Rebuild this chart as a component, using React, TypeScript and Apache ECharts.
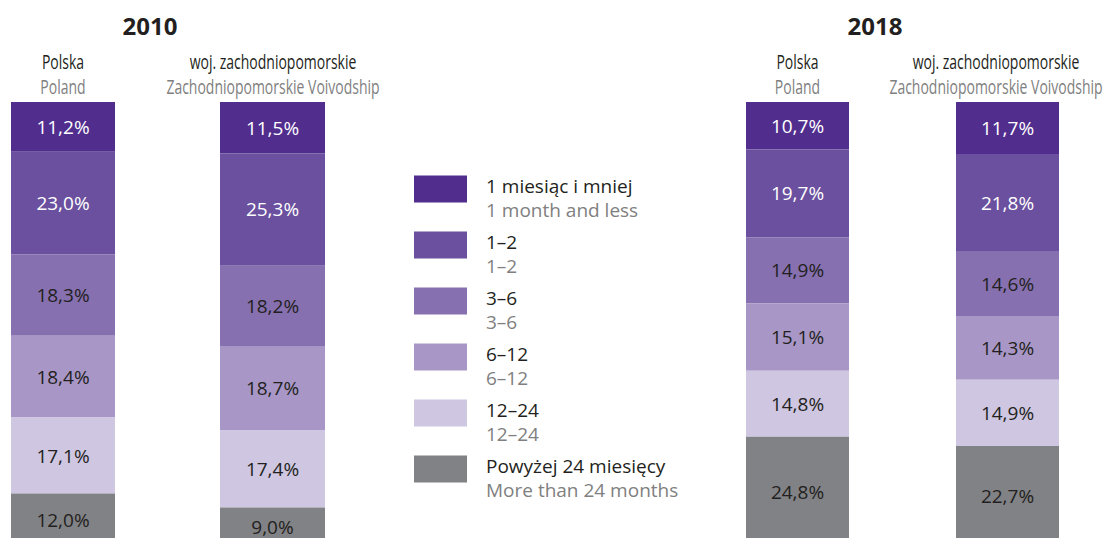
import React, { useEffect, useRef } from 'react';
import * as echarts from 'echarts';

const yearTitles = ['2010', '2018'];
const columnsPl = ['Polska', 'woj. zachodniopomorskie', 'Polska', 'woj. zachodniopomorskie'];
const columnsEn = ['Poland', 'Zachodniopomorskie Voivodship', 'Poland', 'Zachodniopomorskie Voivodship'];
const durationsPl = ['1 miesiąc i mniej', '1–2', '3–6', '6–12', '12–24', 'Powyżej 24 miesięcy'];
const durationsEn = ['1 month and less', '1–2', '3–6', '6–12', '12–24', 'More than 24 months'];
const polska2010 = [11.2, 23.0, 18.3, 18.4, 17.1, 12.0];
const woj2010 = [11.5, 25.3, 18.2, 18.7, 17.4, 9.0];
const polska2018 = [10.7, 19.7, 14.9, 15.1, 14.8, 24.8];
const woj2018 = [11.7, 21.8, 14.6, 14.3, 14.9, 22.7];

const columnValues = [polska2010, woj2010, polska2018, woj2018];
const colors = ['#512d8e', '#6a509e', '#8670b0', '#a897c6', '#cfc6e2', '#818285'];
const gridLayout = [
  { left: 11, width: 104 },
  { left: 220, width: 105 },
  { left: 746, width: 103 },
  { left: 956, width: 103 },
];
const headerX = [63, 273, 797.5, 996];
const titleX = [150, 875];

const SANS = '"Open Sans", "Noto Sans", sans-serif';
const DARK = '#231f20';
const GREY = '#808080';

export default function App() {
  const ref = useRef<HTMLDivElement>(null);
  useEffect(() => {
    if (!ref.current) return;
    const chart = echarts.init(ref.current, null, { renderer: 'svg' });
    const grids = gridLayout.map((g) => ({
      left: g.left,
      width: g.width,
      top: 102,
      height: 445,
      outerBoundsMode: 'none',
      containLabel: false,
    }));
    const xAxes = gridLayout.map((_, i) => ({
      type: 'category',
      gridIndex: i,
      position: 'top',
      data: [columnsPl[i]],
      axisLine: { show: false },
      axisTick: { show: false },
      axisLabel: { show: false },
    }));
    const yAxes = gridLayout.map((_, i) => ({
      type: 'value',
      gridIndex: i,
      min: 0,
      max: 100,
      inverse: true,
      show: false,
    }));
    const series: any[] = [];
    columnValues.forEach((vals, g) => {
      vals.forEach((v, k) => {
        series.push({
          type: 'bar',
          name: durationsPl[k],
          xAxisIndex: g,
          yAxisIndex: g,
          stack: 'col' + g,
          barWidth: '100%',
          data: [v],
          itemStyle: { color: colors[k] },
          emphasis: { disabled: true },
          label: {
            show: true,
            position: 'inside',
            color: k < 2 ? '#ffffff' : DARK,
            fontSize: 19,
            fontFamily: SANS,
            formatter: (p: any) => p.value.toFixed(1).replace('.', ',') + '%',
          },
        });
      });
    });
    const headerTexts: any[] = [];
    headerX.forEach((cx, i) => {
      headerTexts.push({
        type: 'text',
        x: cx,
        y: 61,
        scaleX: 0.7,
        style: {
          text: columnsPl[i],
          align: 'center',
          verticalAlign: 'middle',
          fontSize: 20,
          fontFamily: SANS,
          fill: DARK,
        },
      });
      headerTexts.push({
        type: 'text',
        x: cx,
        y: 86,
        scaleX: 0.7,
        style: {
          text: columnsEn[i],
          align: 'center',
          verticalAlign: 'middle',
          fontSize: 20,
          fontFamily: SANS,
          fill: GREY,
        },
      });
    });
    chart.setOption({
      animation: false,
      grid: grids,
      xAxis: xAxes,
      yAxis: yAxes,
      series,
      legend: {
        data: durationsPl,
        orient: 'vertical',
        left: 414,
        top: 160,
        padding: 0,
        itemWidth: 53,
        itemHeight: 27,
        itemGap: -3,
        icon: 'rect',
        selectedMode: false,
        formatter: (name: string) =>
          `{s| }\n{a|${name}}\n{b|${durationsEn[durationsPl.indexOf(name)]}}`,
        textStyle: {
          rich: {
            s: { fontSize: 10, lineHeight: 17 },
            a: { fontSize: 19, lineHeight: 24, color: DARK, fontFamily: SANS, padding: [0, 0, 0, 14] },
            b: { fontSize: 19, lineHeight: 24, color: GREY, fontFamily: SANS, padding: [0, 0, 0, 14] },
          },
        },
      },
      graphic: [
        ...yearTitles.map((t, i) => ({
          type: 'text',
          x: titleX[i],
          y: 25,
          style: {
            text: t,
            align: 'center',
            verticalAlign: 'middle',
            fontSize: 24,
            fontWeight: 'bold',
            fontFamily: SANS,
            fill: DARK,
          },
        })),
        ...headerTexts,
      ],
    });
    return () => chart.dispose();
  }, []);
  return (
    <div
      ref={ref}
      style={{ position: 'absolute', left: 0, top: 0, width: 1106, height: 538, background: '#ffffff' }}
    />
  );
}
